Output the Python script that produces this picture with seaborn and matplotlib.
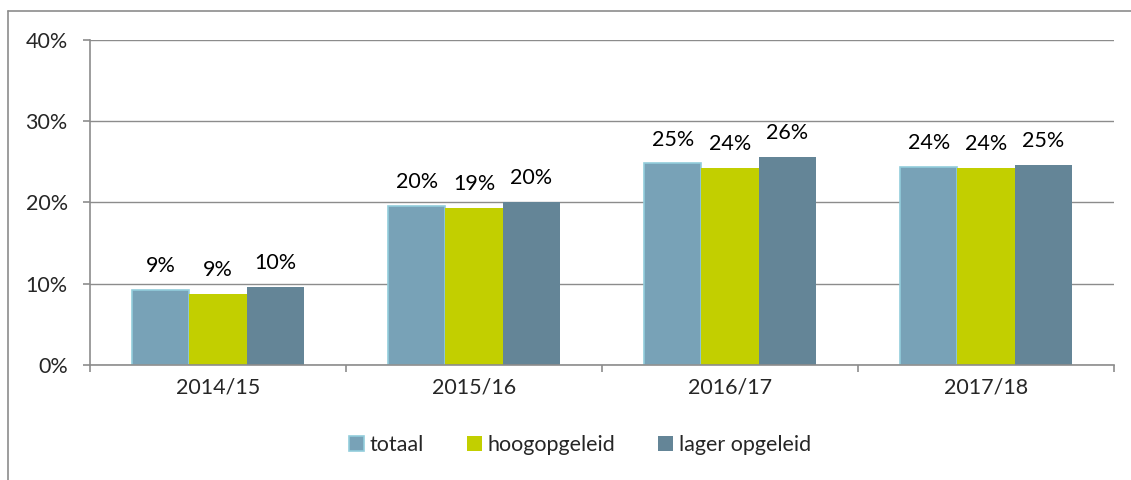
import matplotlib
matplotlib.use("Agg")
import matplotlib.pyplot as plt
import seaborn as sns
import pandas as pd
import numpy as np
from matplotlib.lines import Line2D

years = ["2014/15", "2015/16", "2016/17", "2017/18"]
groups = ["totaal", "hoogopgeleid", "lager opgeleid"]
totaal = [9.2, 19.6, 24.8, 24.4]
hoog = [8.8, 19.3, 24.2, 24.3]
lager = [9.6, 20.1, 25.6, 24.6]
colors = ["#78A2B7", "#C2CF00", "#648597"]

rows = []
for g, vals in zip(groups, [totaal, hoog, lager]):
    for y, v in zip(years, vals):
        rows.append({"jaar": y, "groep": g, "waarde": v})
df = pd.DataFrame(rows)

FS = 15.5

sns.set_style("white")
plt.rcParams["font.family"] = ["Lato", "DejaVu Sans"]
plt.rcParams["font.size"] = FS

fig = plt.figure(figsize=(11.31, 4.8), dpi=100)
ax = fig.add_axes([90/1131, 115/480, (1114-90)/1131, 325/480])

sns.barplot(data=df, x="jaar", y="waarde", hue="groep", palette=colors,
            saturation=1, width=0.67, ax=ax, legend=False, errorbar=None)

for i, cont in enumerate(ax.containers):
    if i == 0:
        for p in cont:
            p.set_edgecolor("#92CDDC")
            p.set_linewidth(1.2)
    else:
        for p in cont:
            p.set_edgecolor("none")
    ax.bar_label(cont, labels=[f"{round(v)}%" for v in [totaal, hoog, lager][i]],
                 padding=10, fontsize=FS, color="#000000")

ax.set_ylim(0, 40)
ax.set_xlim(-0.5, 3.5)
ax.set_yticks([0, 10, 20, 30, 40])
ax.set_yticklabels(["0%", "10%", "20%", "30%", "40%"])
ax.yaxis.grid(True, color="#8C8C8C", linewidth=1)
ax.set_axisbelow(True)
ax.set_xlabel("")
ax.set_ylabel("")
for s in ["top", "right"]:
    ax.spines[s].set_visible(False)
for s in ["left", "bottom"]:
    ax.spines[s].set_color("#8C8C8C")
    ax.spines[s].set_linewidth(1.2)
ax.tick_params(axis="y", length=5, width=1.2, color="#8C8C8C", pad=11, labelsize=FS, left=True)
ax.tick_params(axis="x", which="major", length=0, pad=9, labelsize=FS)
ax.set_xticks([-0.5, 0.5, 1.5, 2.5, 3.5], minor=True)
ax.tick_params(axis="x", which="minor", length=5, width=1.2, color="#8C8C8C", bottom=True)

handles = [plt.Rectangle((0, 0), 1, 1, facecolor=colors[0], edgecolor="#92CDDC", linewidth=1.2),
           plt.Rectangle((0, 0), 1, 1, facecolor=colors[1], edgecolor="none"),
           plt.Rectangle((0, 0), 1, 1, facecolor=colors[2], edgecolor="none")]
fig.legend(handles, groups, loc="center", bbox_to_anchor=(0.513, 0.073), ncol=3,
           frameon=False, handlelength=0.7, handleheight=0.7, handletextpad=0.25,
           columnspacing=2.0, fontsize=FS)

fig.add_artist(Line2D([8/1131, 8/1131], [0, 1 - 11/480], color="#8C8C8C", linewidth=1.2, transform=fig.transFigure))
fig.add_artist(Line2D([8/1131, 1], [1 - 11/480, 1 - 11/480], color="#8C8C8C", linewidth=1.2, transform=fig.transFigure))

fig.savefig("out.png", dpi=100, facecolor="white")
